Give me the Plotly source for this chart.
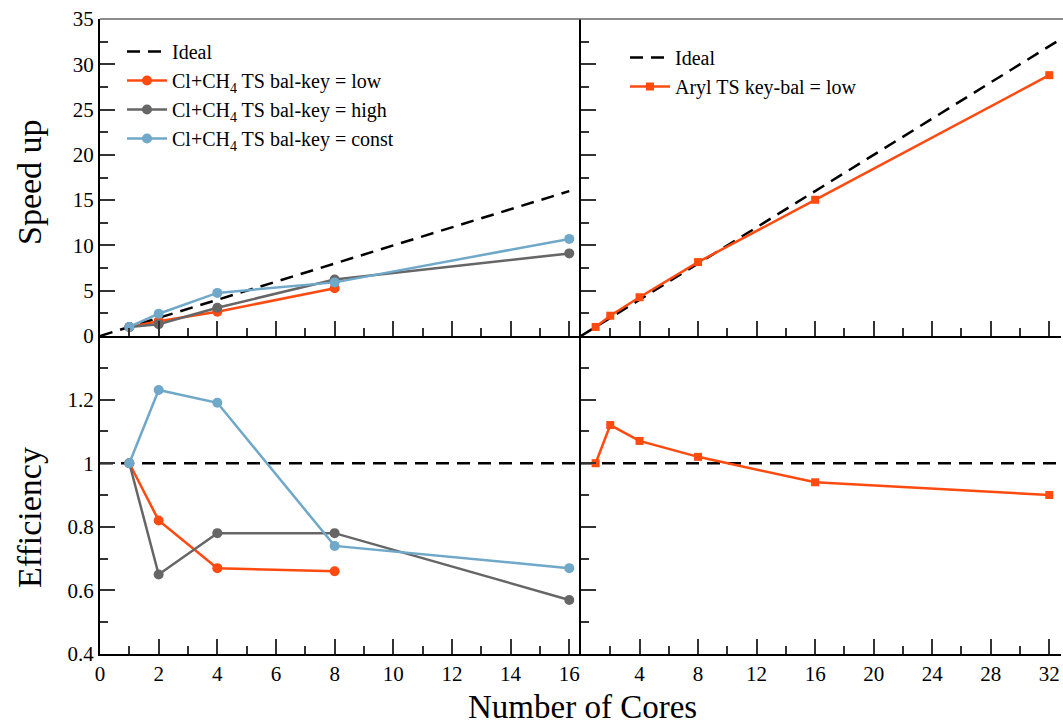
import plotly.graph_objects as go

# ---- data ----
cores_cl = [1, 2, 4, 8, 16]
cores_low = [1, 2, 4, 8]
speed_low = [1.0, 1.64, 2.68, 5.28]
speed_high = [1.0, 1.30, 3.12, 6.24, 9.12]
speed_const = [1.0, 2.46, 4.76, 5.92, 10.72]
eff_low = [1.0, 0.82, 0.67, 0.66]
eff_high = [1.0, 0.65, 0.78, 0.78, 0.57]
eff_const = [1.0, 1.23, 1.19, 0.74, 0.67]

cores_aryl = [1, 2, 4, 8, 16, 32]
speed_aryl = [1.0, 2.24, 4.28, 8.16, 15.04, 28.8]
eff_aryl = [1.0, 1.12, 1.07, 1.02, 0.94, 0.90]

ideal_left_x = [0, 16]
ideal_right_x = [0, 33]
eff_ideal_left_x = [0, 16.4]
eff_ideal_right_x = [0, 33]

left_xticks = [0, 2, 4, 6, 8, 10, 12, 14, 16]
right_xticks = [4, 8, 12, 16, 20, 24, 28, 32]
speed_ticks = [0, 5, 10, 15, 20, 25, 30, 35]
eff_ticks = [0.4, 0.6, 0.8, 1.0, 1.2]
eff_tick_text = ["0.4", "0.6", "0.8", "1", "1.2"]

# ---- style ----
ORANGE = "#FF4A10"
GRAY = "#666666"
BLUE = "#6FA8C8"
FONT = "Liberation Serif, Times New Roman, serif"
W, H = 1063, 728

xl = [100 / W, 581 / W]
xr = [581 / W, 1061 / W]
yb = [(H - 654) / H, (H - 336) / H]
yt = [(H - 336) / H, (H - 19) / H]

fig = go.Figure()
dash = "13px,8px"

def ideal(x, y, xa, ya, leg, show):
    fig.add_trace(go.Scatter(x=x, y=y, mode="lines", name="Ideal",
                             line=dict(color="black", width=2.5, dash=dash),
                             xaxis=xa, yaxis=ya, legend=leg, showlegend=show))

def series(x, y, name, color, xa, ya, leg, show, symbol="circle", size=10):
    fig.add_trace(go.Scatter(x=x, y=y, mode="lines+markers", name=name,
                             line=dict(color=color, width=2.5),
                             marker=dict(color=color, size=size, symbol=symbol),
                             xaxis=xa, yaxis=ya, legend=leg, showlegend=show))

sub = "Cl+CH<sub>4</sub> TS bal-key = "
# top-left (x3, y3)
ideal(ideal_left_x, ideal_left_x, "x3", "y3", "legend", True)
series(cores_low, speed_low, sub + "low", ORANGE, "x3", "y3", "legend", True)
series(cores_cl, speed_high, sub + "high", GRAY, "x3", "y3", "legend", True)
series(cores_cl, speed_const, sub + "const", BLUE, "x3", "y3", "legend", True)
# top-right (x4, y4)
ideal(ideal_right_x, ideal_right_x, "x4", "y4", "legend2", True)
series(cores_aryl, speed_aryl, "Aryl TS key-bal = low", ORANGE, "x4", "y4", "legend2", True,
       symbol="square", size=8)
# bottom-left (x, y)
ideal(eff_ideal_left_x, [1, 1], "x", "y", "legend", False)
series(cores_low, eff_low, "low", ORANGE, "x", "y", "legend", False)
series(cores_cl, eff_high, "high", GRAY, "x", "y", "legend", False)
series(cores_cl, eff_const, "const", BLUE, "x", "y", "legend", False)
# bottom-right (x2, y2)
ideal(eff_ideal_right_x, [1, 1], "x2", "y2", "legend", False)
series(cores_aryl, eff_aryl, "aryl", ORANGE, "x2", "y2", "legend", False, symbol="square", size=8)

tickfont = dict(family=FONT, size=21, color="black")
common = dict(showgrid=False, zeroline=False, ticks="inside", ticklen=15, tickwidth=1.5,
              tickcolor="#333333", showline=True, linecolor="black", linewidth=2,
              tickfont=tickfont, automargin=False)

def minor(d):
    return dict(ticks="inside", ticklen=8, tickwidth=1.5, tickcolor="#333333", dtick=d, showgrid=False)

fig.update_layout(
    width=W, height=H, margin=dict(l=0, r=0, t=0, b=0, autoexpand=False),
    font=dict(family=FONT, size=20, color="black"),
    plot_bgcolor="white", paper_bgcolor="white",
    xaxis=dict(domain=xl, range=[0, 16.4], anchor="y", tickvals=left_xticks,
               minor=minor(1), **common),
    yaxis=dict(domain=yb, range=[0.4, 1.4], anchor="x", tickvals=eff_ticks,
               ticktext=eff_tick_text, minor=minor(0.1), **common),
    xaxis2=dict(domain=xr, range=[0, 32.8], anchor="y2", tickvals=right_xticks,
                minor=minor(2), **common),
    yaxis2=dict(domain=yb, range=[0.4, 1.4], anchor="x2", tickvals=eff_ticks,
                showticklabels=False, minor=minor(0.1), **common),
    xaxis3=dict(domain=xl, range=[0, 16.4], anchor="y3", tickvals=left_xticks,
                showticklabels=False, minor=minor(1), **common),
    yaxis3=dict(domain=yt, range=[0, 35], anchor="x3", tickvals=speed_ticks,
                minor=minor(2.5), **common),
    xaxis4=dict(domain=xr, range=[0, 32.8], anchor="y4", tickvals=right_xticks,
                showticklabels=False, minor=minor(2), **common),
    yaxis4=dict(domain=yt, range=[0, 35], anchor="x4", tickvals=speed_ticks,
                showticklabels=False, minor=minor(2.5), **common),
    legend=dict(x=122 / W, y=(H - 32) / H, xanchor="left", yanchor="top",
                bgcolor="rgba(0,0,0,0)", font=dict(family=FONT, size=20, color="black"),
                tracegroupgap=0, itemwidth=40),
    legend2=dict(x=625 / W, y=(H - 38) / H, xanchor="left", yanchor="top",
                 bgcolor="rgba(0,0,0,0)", font=dict(family=FONT, size=20, color="black"),
                 itemwidth=40),
    shapes=[dict(type="line", xref="paper", yref="paper", x0=xl[0], x1=1, y0=yt[1], y1=yt[1],
                 line=dict(color="#666666", width=1.5))],
    annotations=[
        dict(text="Number of Cores", x=582 / W, y=(H - 707) / H, xref="paper", yref="paper",
             xanchor="center", yanchor="middle",
             showarrow=False, font=dict(family=FONT, size=33, color="black")),
        dict(text="Speed up", x=29 / W, y=(H - 182) / H, xref="paper", yref="paper",
             xanchor="center", yanchor="middle",
             textangle=-90, showarrow=False, font=dict(family=FONT, size=34, color="black")),
        dict(text="Efficiency", x=29 / W, y=(H - 518) / H, xref="paper", yref="paper",
             xanchor="center", yanchor="middle",
             textangle=-90, showarrow=False, font=dict(family=FONT, size=34, color="black")),
    ],
)

fig.write_html("out.html")
